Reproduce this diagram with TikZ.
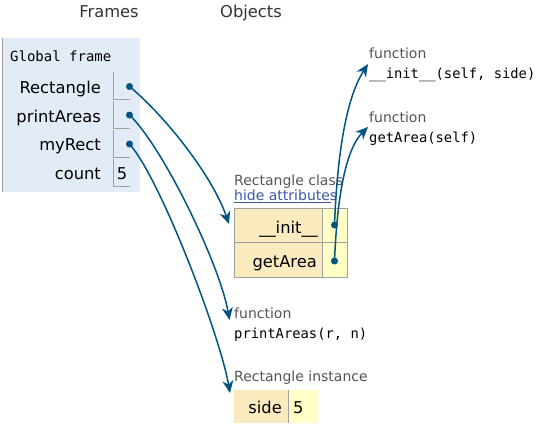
\documentclass[tikz,border=0pt]{standalone}
\usepackage{fontspec}
\setmainfont{DejaVu Sans}
\setmonofont{DejaVu Sans Mono}
\usetikzlibrary{arrows.meta}
\definecolor{framebg}{HTML}{E2EBF6}
\definecolor{keybg}{HTML}{FAEBBF}
\definecolor{valbg}{HTML}{FFFFC6}
\definecolor{arrowc}{HTML}{005583}
\definecolor{cellline}{HTML}{A0A0A0}
\definecolor{labelc}{HTML}{555555}
\definecolor{linkc}{HTML}{3D58A2}
\begin{document}
\begin{tikzpicture}[x=1pt,y=-1pt,
  hdr/.style={inner sep=0pt,anchor=base,font=\fontsize{16.3}{17}\selectfont,text=black!80},
  varname/.style={inner sep=0pt,anchor=base east,font=\fontsize{16.3}{17}\selectfont},
  smalllab/.style={inner sep=0pt,anchor=base west,font=\fontsize{14}{15}\selectfont,text=labelc},
  code/.style={inner sep=0pt,anchor=base west,font=\ttfamily\fontsize{13.8}{14}\selectfont},
  dot/.style={circle,fill=arrowc,inner sep=0pt,minimum size=7pt},
  ptr/.style={draw=arrowc,line width=1.5pt,-{Stealth[length=12.5pt,width=11pt,inset=4pt]}},
  cell/.style={draw=cellline,line width=0.8pt}
]
\useasboundingbox (0,0) rectangle (537,431);

% headers
\node[hdr] (frames) at (109,17) {Frames};
\node[hdr] (objects) at (251,17) {Objects};

% global frame
\fill[framebg] (2,38) rectangle (140,192);
\draw[cellline,line width=1pt] (2.5,38) -- (2.5,192);
\node[code,font=\ttfamily\fontsize{14}{14}\selectfont] (gf) at (10,61) {Global frame};

\node[varname] (vRect) at (101,93) {Rectangle};
\node[varname] (vPrint) at (101,122) {printAreas};
\node[varname] (vMy) at (101,150) {myRect};
\node[varname] (vCount) at (101,179) {count};

\foreach \t in {72,101,130,159}{
  \draw[cell] (113,\t) -- (113,\t+27) -- (130,\t+27);
}
\node[varname,anchor=base] (cval) at (122,179) {5};

\node[dot] (d1) at (129.5,86.5) {};
\node[dot] (d2) at (129.5,115) {};
\node[dot] (d3) at (129.5,144) {};

% Rectangle class
\node[smalllab] (rclab) at (234,185) {Rectangle class};
\node[smalllab,text=linkc] (hide) at (234,200) {hide attributes};
\draw[linkc,line width=0.7pt] (hide.base west) ++(0,2.5) -- ++(97,0);

\fill[keybg] (234,208) rectangle (322,277);
\fill[valbg] (322,208) rectangle (347,277);
\draw[cell] (234,208) rectangle (347,277);
\draw[cell] (234,242.5) -- (347,242.5);
\draw[cell] (322,208) -- (322,277);
\node[varname] (kinit) at (318,233) {\_\_init\_\_};
\node[varname] (kget) at (317,267) {getArea};
\node[dot] (d4) at (334.5,225) {};
\node[dot] (d5) at (334.5,261) {};

% functions
\node[smalllab] (f1lab) at (369,58) {function};
\node[code] (f1) at (369,78) {\_\_init\_\_(self, side)};
\node[smalllab] (f2lab) at (369,122) {function};
\node[code] (f2) at (369,142) {getArea(self)};
\node[smalllab] (f3lab) at (234,318) {function};
\node[code] (f3) at (234,338) {printAreas(r, n)};

% instance
\node[smalllab] (inslab) at (234,381) {Rectangle instance};
\fill[keybg] (234,390) rectangle (288,423);
\fill[valbg] (288,390) rectangle (318,423);
\draw[cell] (288,390) -- (288,423);
\node[varname] (kside) at (282,413) {side};
\node[varname,anchor=base west] (vside) at (293,413) {5};

% targets
\coordinate (t1) at (229,224);
\coordinate (t2) at (229.5,320);
\coordinate (t3) at (230,393);
\coordinate (t4) at (368,64);
\coordinate (t5) at (368,127);

\draw[ptr] (d1.center) .. controls (165,116) and (212,175) .. (t1);
\draw[ptr] (d2.center) .. controls (163,147) and (220,265) .. (t2);
\draw[ptr] (d3.center) .. controls (160,178) and (220,335) .. (t3);
\draw[ptr] (d4.center) .. controls (337,160) and (345,100) .. (t4);
\draw[ptr] (d5.center) .. controls (337,200) and (345,150) .. (t5);
\end{tikzpicture}
\end{document}
